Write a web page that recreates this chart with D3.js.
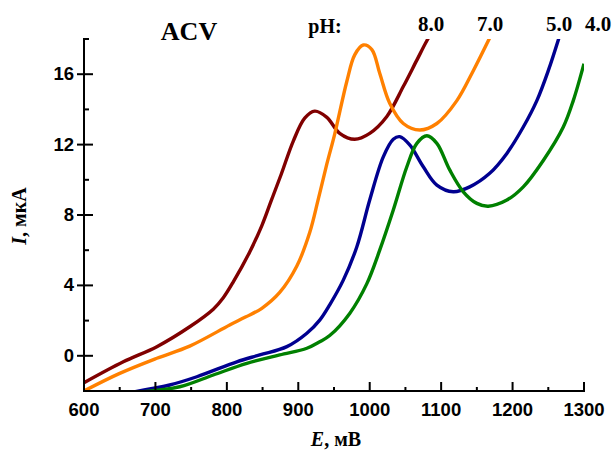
<!DOCTYPE html>
<html>
<head>
<meta charset="utf-8">
<script src="https://cdn.jsdelivr.net/npm/d3@7"></script>
<style>
  body { margin: 0; background: #fff; }
  svg text { font-family: "Liberation Sans", Arial, sans-serif; }
  .serif { font-family: "Liberation Serif", "Times New Roman", serif !important; font-weight: bold; }
</style>
</head>
<body>
<div id="chart"></div>
<script>
// data
var ph8E = [600, 655, 702, 748, 781, 795, 809, 832, 849, 862, 876, 893, 909, 923, 940, 958, 979, 1000, 1024, 1047, 1066, 1080, 1092];
var ph8I = [-1.53, -0.34, 0.52, 1.65, 2.65, 3.3, 4.2, 5.9, 7.4, 8.8, 10.3, 12.2, 13.5, 13.9, 13.55, 12.64, 12.3, 12.64, 13.6, 15.3, 16.8, 17.9, 18.7];

var ph7E = [600, 650, 702, 748, 804, 826, 849, 874, 898, 916, 928, 940, 951, 968, 979, 991, 1003, 1014, 1028, 1047, 1070, 1094, 1122, 1145, 1172];
var ph7I = [-2.0, -1.0, -0.14, 0.55, 1.75, 2.2, 2.7, 3.6, 5.1, 7.0, 8.9, 10.9, 12.6, 15.6, 17.1, 17.66, 17.4, 16.05, 14.35, 13.2, 12.83, 13.2, 14.5, 16.2, 18.4];

var ph5E = [670, 720, 758, 814, 846, 884, 912, 930, 944, 963, 982, 1000, 1019, 1033, 1042, 1056, 1075, 1094, 1117, 1140, 1168, 1192, 1215, 1234, 1250, 1266];
var ph5I = [-2.05, -1.66, -1.19, -0.34, 0.05, 0.52, 1.28, 2.03, 2.9, 4.3, 6.2, 8.85, 11.3, 12.3, 12.45, 11.98, 10.74, 9.7, 9.32, 9.6, 10.37, 11.5, 13.0, 14.5, 16.2, 18.2];

var ph4E = [680, 734, 781, 828, 874, 912, 930, 944, 972, 996, 1014, 1033, 1052, 1066, 1080, 1094, 1112, 1131, 1150, 1166, 1192, 1215, 1243, 1271, 1285, 1300];
var ph4I = [-2.05, -1.76, -1.09, -0.43, 0.05, 0.43, 0.8, 1.15, 2.41, 4.1, 6.0, 8.28, 10.74, 12.07, 12.5, 12.07, 10.56, 9.32, 8.66, 8.5, 8.85, 9.6, 11.1, 13.0, 14.5, 16.6];

var phLabels = ["8.0", "7.0", "5.0", "4.0"];
var xTicks = [600, 700, 800, 900, 1000, 1100, 1200, 1300];
var yTicks = [0, 4, 8, 12, 16];

var width = 613, height = 451;
var mLeft = 84, mRight = 584, mTop = 39, mBottom = 391;

var series = [
  { label: phLabels[0], E: ph8E, I: ph8I, color: "#800000", lx: 431 },
  { label: phLabels[1], E: ph7E, I: ph7I, color: "#ff8000", lx: 490 },
  { label: phLabels[2], E: ph5E, I: ph5I, color: "#000090", lx: 559 },
  { label: phLabels[3], E: ph4E, I: ph4I, color: "#008000", lx: 598 }
];

var x = d3.scaleLinear().domain([600, 1300]).range([mLeft, mRight]);
var y = d3.scaleLinear().domain([-2, 18]).range([mBottom, mTop]);

var svg = d3.select("#chart").append("svg")
  .attr("width", width)
  .attr("height", height);

svg.append("defs").append("clipPath").attr("id", "clip")
  .append("rect")
  .attr("x", mLeft).attr("y", mTop)
  .attr("width", mRight - mLeft).attr("height", mBottom - mTop);

var line = d3.line()
  .x(function (d) { return x(d[0]); })
  .y(function (d) { return y(d[1]); })
  .curve(d3.curveCatmullRom.alpha(0.5));

svg.append("g").attr("clip-path", "url(#clip)")
  .selectAll("path")
  .data(series)
  .enter()
  .append("path")
  .attr("d", function (s) { return line(d3.zip(s.E, s.I)); })
  .attr("fill", "none")
  .attr("stroke", function (s) { return s.color; })
  .attr("stroke-width", 3.4)
  .attr("stroke-linejoin", "round");

// x axis: ticks inside
var xAxis = svg.append("g").attr("transform", "translate(0," + mBottom + ")");
xAxis.append("line").attr("x1", mLeft - 1).attr("x2", mRight + 1).attr("stroke", "#000").attr("stroke-width", 2);
xAxis.selectAll(".maj").data(xTicks).enter().append("line")
  .attr("class", "maj")
  .attr("x1", x).attr("x2", x).attr("y1", 0).attr("y2", -9)
  .attr("stroke", "#000").attr("stroke-width", 2);
xAxis.selectAll(".min").data(d3.range(650, 1300, 100)).enter().append("line")
  .attr("class", "min")
  .attr("x1", x).attr("x2", x).attr("y1", 0).attr("y2", -4)
  .attr("stroke", "#000").attr("stroke-width", 2);
xAxis.selectAll("text").data(xTicks).enter().append("text")
  .attr("x", x).attr("y", 25)
  .attr("text-anchor", "middle")
  .style("font-size", "18.5px").style("font-weight", "bold")
  .text(function (d) { return d; });

// y axis: major ticks cross, minor inside
var yAxis = svg.append("g").attr("transform", "translate(" + mLeft + ",0)");
yAxis.append("line").attr("y1", mTop - 1).attr("y2", mBottom).attr("stroke", "#000").attr("stroke-width", 2);
yAxis.selectAll(".maj").data(yTicks).enter().append("line")
  .attr("class", "maj")
  .attr("y1", y).attr("y2", y).attr("x1", -7).attr("x2", 9)
  .attr("stroke", "#000").attr("stroke-width", 2);
yAxis.selectAll(".min").data(d3.range(2, 19, 4)).enter().append("line")
  .attr("class", "min")
  .attr("y1", y).attr("y2", y).attr("x1", 0).attr("x2", 5)
  .attr("stroke", "#000").attr("stroke-width", 2);
yAxis.selectAll("text").data(yTicks).enter().append("text")
  .attr("x", -10).attr("y", function (d) { return y(d) + 6; })
  .attr("text-anchor", "end")
  .style("font-size", "18.5px").style("font-weight", "bold")
  .text(function (d) { return d; });

// titles
svg.append("text").attr("class", "serif")
  .attr("x", 189).attr("y", 40).attr("text-anchor", "middle")
  .style("font-size", "26px").text("ACV");
svg.append("text").attr("class", "serif")
  .attr("x", 325).attr("y", 33).attr("text-anchor", "middle")
  .style("font-size", "20px").text("pH:");
svg.selectAll(".phl").data(series).enter().append("text")
  .attr("class", "serif phl")
  .attr("x", function (s) { return s.lx; }).attr("y", 31)
  .attr("text-anchor", "middle")
  .style("font-size", "21px")
  .text(function (s) { return s.label; });

var xt = svg.append("text").attr("class", "serif")
  .attr("x", 336).attr("y", 446).attr("text-anchor", "middle")
  .style("font-size", "20px");
xt.append("tspan").style("font-style", "italic").text("E");
xt.append("tspan").text(", мВ");

var yt = svg.append("text").attr("class", "serif")
  .attr("transform", "translate(26,216) rotate(-90)")
  .attr("text-anchor", "middle")
  .style("font-size", "20px");
yt.append("tspan").style("font-style", "italic").text("I");
yt.append("tspan").text(", мкА");
</script>
</body>
</html>
